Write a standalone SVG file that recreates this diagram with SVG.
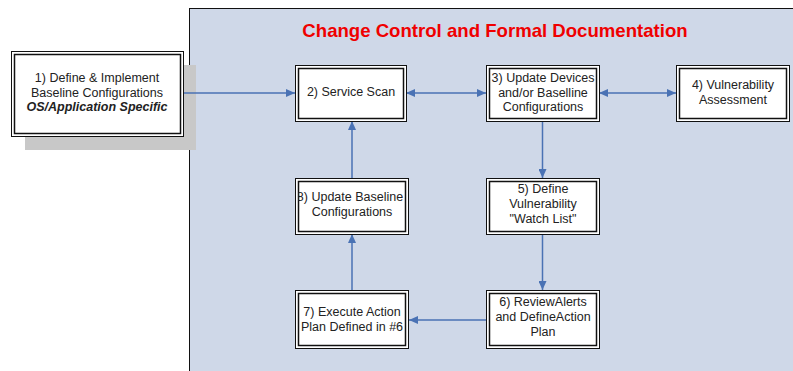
<svg xmlns="http://www.w3.org/2000/svg" width="793" height="371" viewBox="0 0 793 371">
<style>
.box{fill:#fff;stroke:#111;stroke-width:1}
.inner{fill:none;stroke:#111;stroke-width:1.5}
.t{font-family:"Liberation Sans",Arial,sans-serif;font-size:12.5px;fill:#222;text-anchor:middle}
.c{stroke:#4a72b4;stroke-width:1.5;fill:none}
</style>
<defs>
<marker id="ah" markerUnits="userSpaceOnUse" markerWidth="9" markerHeight="8" refX="9" refY="4" orient="auto-start-reverse">
<path d="M0,0 L9,4 L0,8 z" fill="#4a72b4"/>
</marker>
<clipPath id="clip8"><rect x="298" y="178" width="110" height="56"/></clipPath>
</defs>
<rect width="793" height="371" fill="#fff"/>
<g id="panel">
<rect x="189.5" y="8.5" width="610" height="370" fill="#cfd8e8" stroke="#111" stroke-width="1"/>
<text x="495" y="37" font-family="'Liberation Sans',Arial,sans-serif" font-size="18.6" font-weight="bold" fill="#f00000" text-anchor="middle">Change Control and Formal Documentation</text>
</g>
<g id="n1">
<rect x="25" y="65" width="171" height="85" fill="#c8c8c8"/>
<rect class="box" x="11.5" y="51.5" width="172" height="85"/>
<rect class="inner" x="14.5" y="54.5" width="166" height="79"/>
<text class="t" x="97" y="82">1) Define &amp; Implement</text>
<text class="t" x="97" y="96.5">Baseline Configurations</text>
<text class="t" x="97" y="111" font-weight="bold" font-style="italic">OS/Application Specific</text>
</g>
<g id="connectors">
<line class="c" x1="184" y1="93" x2="295" y2="93" marker-end="url(#ah)"/>
<line class="c" x1="406" y1="93" x2="486" y2="93" marker-start="url(#ah)" marker-end="url(#ah)"/>
<line class="c" x1="599" y1="93" x2="676" y2="93" marker-start="url(#ah)" marker-end="url(#ah)"/>
<line class="c" x1="542.5" y1="121" x2="542.5" y2="178" marker-end="url(#ah)"/>
<line class="c" x1="542.5" y1="234" x2="542.5" y2="290" marker-end="url(#ah)"/>
<line class="c" x1="486" y1="320" x2="409" y2="320" marker-end="url(#ah)"/>
<line class="c" x1="352" y1="290" x2="352" y2="234" marker-end="url(#ah)"/>
<line class="c" x1="352" y1="178" x2="352" y2="121" marker-end="url(#ah)"/>
</g>
<g id="n2">
<rect class="box" x="295.5" y="65.5" width="111" height="56"/>
<rect class="inner" x="298.5" y="68.5" width="105" height="50"/>
<text class="t" x="351" y="96">2) Service Scan</text>
</g>
<g id="n3">
<rect class="box" x="486.5" y="65.5" width="113" height="56"/>
<rect class="inner" x="489.5" y="68.5" width="107" height="50"/>
<text class="t" x="543" y="82">3) Update Devices</text>
<text class="t" x="543" y="96.5">and/or Baselline</text>
<text class="t" x="543" y="111">Configurations</text>
</g>
<g id="n4">
<rect class="box" x="676.5" y="65.5" width="113" height="56"/>
<rect class="inner" x="679.5" y="68.5" width="107" height="50"/>
<text class="t" x="733" y="89">4) Vulnerability</text>
<text class="t" x="733" y="104">Assessment</text>
</g>
<g id="n5">
<rect class="box" x="486.5" y="178.5" width="113" height="56"/>
<rect class="inner" x="489.5" y="181.5" width="107" height="50"/>
<text class="t" x="543" y="193">5) Define</text>
<text class="t" x="543" y="208">Vulnerability</text>
<text class="t" x="543" y="223">"Watch List"</text>
</g>
<g id="n6">
<rect class="box" x="486.5" y="290.5" width="113" height="58"/>
<rect class="inner" x="489.5" y="293.5" width="107" height="52"/>
<text class="t" x="543" y="306">6) ReviewAlerts</text>
<text class="t" x="543" y="321">and DefineAction</text>
<text class="t" x="543" y="336">Plan</text>
</g>
<g id="n7">
<rect class="box" x="295.5" y="290.5" width="113" height="58"/>
<rect class="inner" x="298.5" y="293.5" width="107" height="52"/>
<text class="t" x="352" y="316">7) Execute Action</text>
<text class="t" x="352" y="331">Plan Defined in #6</text>
</g>
<g id="n8">
<rect class="box" x="295.5" y="178.5" width="113" height="56"/>
<rect class="inner" x="298.5" y="181.5" width="107" height="50"/>
<text class="t" x="350" y="201" clip-path="url(#clip8)">8) Update Baseline</text>
<text class="t" x="352" y="216">Configurations</text>
</g>
</svg>
